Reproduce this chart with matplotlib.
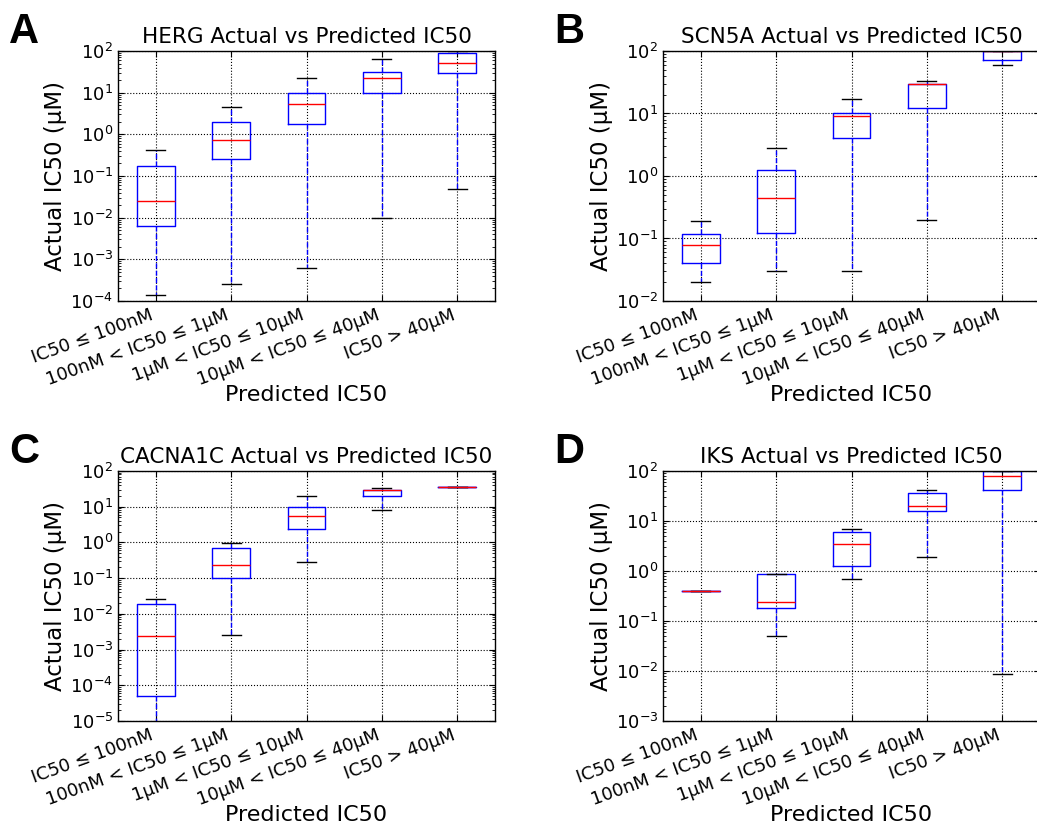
import numpy as np
import matplotlib.pyplot as plt
from matplotlib.ticker import LogLocator

plt.rcParams['font.family'] = ['DejaVu Sans']
plt.rcParams['mathtext.default'] = 'regular'

categories = ["IC50 ≤ 100nM", "100nM < IC50 ≤ 1μM", "1μM < IC50 ≤ 10μM",
              "10μM < IC50 ≤ 40μM", "IC50 > 40μM"]

# box statistics: low whisker, q1, median, q3, high whisker
herg_lo = [1.4e-4, 2.6e-4, 6.2e-4, 0.01, 0.048]
herg_q1 = [0.0064, 0.25, 1.8, 10, 30]
herg_med = [0.025, 0.73, 5.2, 23, 51]
herg_q3 = [0.177, 1.98, 10, 32, 92]
herg_hi = [0.42, 4.5, 22.5, 65, 100]

scn5a_lo = [0.02, 0.03, 0.03, 0.2, 60]
scn5a_q1 = [0.04, 0.122, 4.05, 12.2, 71]
scn5a_med = [0.08, 0.45, 9.0, 30, 100]
scn5a_q3 = [0.119, 1.23, 10, 30, 100]
scn5a_hi = [0.19, 2.84, 17, 33.5, 100]

cacna_lo = [6e-6, 0.00256, 0.283, 8.3, 36]
cacna_q1 = [4.9e-5, 0.099, 2.33, 20, 36]
cacna_med = [0.00245, 0.24, 5.4, 29.5, 36]
cacna_q3 = [0.0193, 0.71, 10, 30, 36]
cacna_hi = [0.0255, 0.98, 20, 32.7, 36]

iks_lo = [0.4, 0.049, 0.70, 1.9, 0.0089]
iks_q1 = [0.4, 0.179, 1.28, 15.6, 41]
iks_med = [0.4, 0.244, 3.4, 19.6, 78]
iks_q3 = [0.4, 0.87, 6.0, 36.9, 98]
iks_hi = [0.4, 0.87, 6.9, 41, 100]

panels = [
    ("A", "HERG Actual vs Predicted IC50", (1e-4, 1e2),
     herg_lo, herg_q1, herg_med, herg_q3, herg_hi),
    ("B", "SCN5A Actual vs Predicted IC50", (1e-2, 1e2),
     scn5a_lo, scn5a_q1, scn5a_med, scn5a_q3, scn5a_hi),
    ("C", "CACNA1C Actual vs Predicted IC50", (1e-5, 1e2),
     cacna_lo, cacna_q1, cacna_med, cacna_q3, cacna_hi),
    ("D", "IKS Actual vs Predicted IC50", (1e-3, 1e2),
     iks_lo, iks_q1, iks_med, iks_q3, iks_hi),
]

fig = plt.figure(figsize=(10.37, 8.26), dpi=100)
W, H = 1037, 826
ax_pos = [(118, 51), (663, 51), (118, 471), (663, 471)]
lab_pos = [(9, 12), (554, 12), (9, 432), (554, 432)]
aw, ah = 377, 250

for i, (letter, title, ylim, lo, q1, med, q3, hi) in enumerate(panels):
    x0, y0 = ax_pos[i]
    ax = fig.add_axes([x0 / W, 1 - (y0 + ah) / H, aw / W, ah / H])
    stats = [dict(whislo=lo[k], q1=q1[k], med=med[k], q3=q3[k], whishi=hi[k],
                  fliers=[]) for k in range(len(categories))]
    ax.bxp(stats, widths=0.5, showfliers=False,
           boxprops=dict(color="b", linewidth=1),
           medianprops=dict(color="r", linewidth=1),
           whiskerprops=dict(color="b", linestyle="--", linewidth=1),
           capprops=dict(color="k", linewidth=1))
    ax.set_yscale("log")
    ax.set_ylim(*ylim)
    ax.set_xlim(0.5, 5.5)
    ax.yaxis.set_major_locator(LogLocator(base=10, numticks=20))
    ax.yaxis.set_minor_locator(LogLocator(base=10, subs=np.arange(2, 10), numticks=20))
    ax.grid(True, which="major", linestyle=":", color="k", linewidth=0.8)
    ax.tick_params(which="both", direction="in", top=True, right=True)
    ax.tick_params(which="major", length=4, labelsize=13)
    ax.tick_params(which="minor", length=2)
    ax.set_xticks(range(1, 6))
    ax.set_xticklabels(categories, rotation=20, ha="right", fontsize=13)
    ax.set_title(title, fontsize=15.5)
    ax.set_xlabel("Predicted IC50", fontsize=16, labelpad=-3)
    ax.set_ylabel("Actual IC50 (μM)", fontsize=16.5, labelpad=2)
    for sp in ax.spines.values():
        sp.set_linewidth(1)
    fig.text(lab_pos[i][0] / W, 1 - lab_pos[i][1] / H, letter, fontsize=30,
             fontweight="bold", family="Liberation Sans", va="top", ha="left")

fig.savefig("out.png", dpi=100, facecolor="white")
